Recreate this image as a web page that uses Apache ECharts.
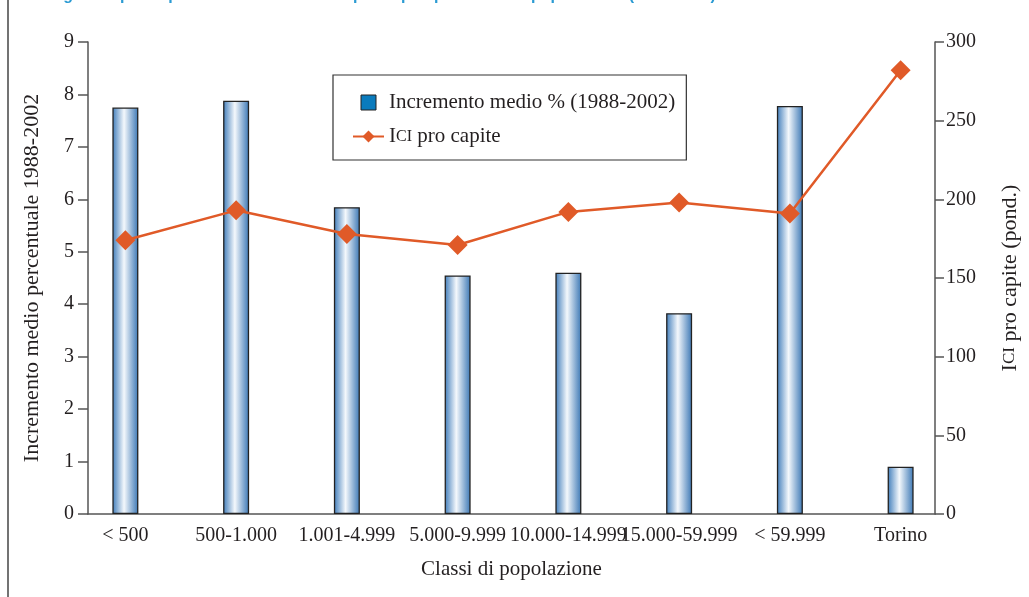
<!DOCTYPE html>
<html>
<head>
<meta charset="utf-8">
<script src="https://cdn.jsdelivr.net/npm/echarts@6/dist/echarts.min.js"></script>
<style>
html,body{margin:0;padding:0;background:#fff;}
#c{width:1029px;height:597px;}
</style>
</head>
<body>
<div id="c"></div>
<script>
var categories = ['< 500', '500-1.000', '1.001-4.999', '5.000-9.999', '10.000-14.999', '15.000-59.999', '< 59.999', 'Torino'];
var incremento = [7.75, 7.88, 5.85, 4.55, 4.6, 3.83, 7.78, 0.9];
var iciProCapite = [174, 193, 178, 171, 192, 198, 191, 282];
var leftTicks = {min: 0, max: 9, interval: 1};
var rightTicks = {min: 0, max: 300, interval: 50};

var serif = 'Liberation Serif';
var txt = '#231f20';
var axisCol = '#555555';

var chart = echarts.init(document.getElementById('c'));
var barGrad = new echarts.graphic.LinearGradient(0, 0, 1, 0, [
  {offset: 0, color: '#3f7cba'},
  {offset: 0.45, color: '#f4f8fc'},
  {offset: 1, color: '#3a76b4'}
]);
function capsRich(size) {
  return {
    big: {fontFamily: serif, fontSize: size, color: txt},
    sm: {fontFamily: serif, fontSize: Math.round(size * 0.76), color: txt}
  };
}

chart.setOption({
  animation: false,
  title: {
    text: 'Fig. 2 ICI pro capite 2002 e dinamica ICI pro capite per classi di popolazione (1988-2002)',
    left: 44, top: -17,
    textStyle: {fontFamily: 'Liberation Sans', fontWeight: 'bold', fontSize: 16, color: '#2b9bd3'}
  },
  graphic: [{
    type: 'line', shape: {x1: 8, y1: 0, x2: 8, y2: 597},
    style: {stroke: '#444', lineWidth: 1.5}
  }],
  legend: {
    orient: 'vertical', left: 333, top: 75,
    padding: [17, 11, 13, 19],
    borderColor: '#333', borderWidth: 1.2,
    itemWidth: 31, itemHeight: 15, itemGap: 13,
    data: [
      {name: 'Incremento medio % (1988-2002)', icon: 'path://M0,0h10v10h-10z', symbolKeepAspect: true,
       itemStyle: {color: '#0a7bbd', borderColor: '#222', borderWidth: 1}},
      {name: 'ICI pro capite'}
    ],
    formatter: function (n) {
      if (n === 'ICI pro capite') return '{big|I}{sm|CI}{big| pro capite}';
      return n;
    },
    textStyle: {fontFamily: serif, fontSize: 21, color: txt, rich: capsRich(21)}
  },
  grid: [
    {left: 88, right: 91, top: 42, bottom: 83},
    {left: 70, right: 73, top: 42, bottom: 83}
  ],
  xAxis: [
    {type: 'category', gridIndex: 0, data: categories,
     axisLine: {lineStyle: {color: axisCol, width: 1.5}}, axisTick: {show: false}, axisLabel: {show: false},
     name: 'Classi di popolazione', nameLocation: 'middle', nameGap: 45,
     nameTextStyle: {fontFamily: serif, fontSize: 21, color: txt}},
    {type: 'category', gridIndex: 1, data: categories,
     axisLine: {show: false}, axisTick: {show: false},
     axisLabel: {interval: 0, margin: 12, fontFamily: serif, fontSize: 20, color: txt}}
  ],
  yAxis: [
    {type: 'value', gridIndex: 0, position: 'left', min: leftTicks.min, max: leftTicks.max, interval: leftTicks.interval,
     axisLine: {show: true, lineStyle: {color: axisCol, width: 1.5}},
     axisTick: {show: true, length: 10, lineStyle: {color: axisCol, width: 1.5}},
     axisLabel: {margin: 14, fontFamily: serif, fontSize: 20, color: txt},
     splitLine: {show: false},
     name: 'Incremento medio percentuale 1988-2002', nameLocation: 'middle', nameGap: 45, nameRotate: 90,
     nameTextStyle: {fontFamily: serif, fontSize: 22, color: txt}},
    {type: 'value', gridIndex: 0, position: 'right', min: rightTicks.min, max: rightTicks.max, interval: rightTicks.interval,
     axisLine: {show: true, lineStyle: {color: axisCol, width: 1.5}},
     axisTick: {show: true, length: 9, lineStyle: {color: axisCol, width: 1.5}},
     axisLabel: {margin: 11, fontFamily: serif, fontSize: 20, color: txt},
     splitLine: {show: false},
     name: '{big|I}{sm|CI}{big| pro capite (pond.)}', nameLocation: 'middle', nameGap: 64, nameRotate: 90,
     nameTextStyle: {fontFamily: serif, fontSize: 22, color: txt, rich: capsRich(22)}},
    {type: 'value', gridIndex: 1, min: leftTicks.min, max: leftTicks.max, interval: leftTicks.interval, show: false},
    {type: 'value', gridIndex: 1, min: rightTicks.min, max: rightTicks.max, interval: rightTicks.interval, show: false}
  ],
  series: [
    {name: 'Incremento medio % (1988-2002)', type: 'bar', xAxisIndex: 1, yAxisIndex: 2,
     data: incremento, barWidth: 26, symbolKeepAspect: true,
     itemStyle: {color: barGrad, borderColor: '#222', borderWidth: 1.3}},
    {name: 'ICI pro capite', type: 'line', xAxisIndex: 1, yAxisIndex: 3,
     data: iciProCapite, symbol: 'diamond', symbolSize: 20,
     lineStyle: {color: '#e05a28', width: 2.5}, itemStyle: {color: '#e05a28'}}
  ]
});
</script>
</body>
</html>
